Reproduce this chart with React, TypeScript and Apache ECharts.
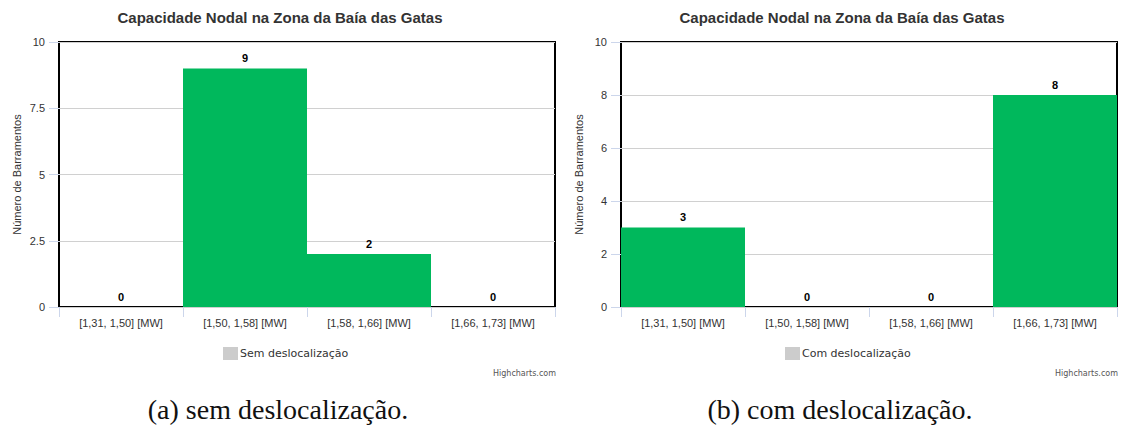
import React, { useEffect, useRef } from "react";
import * as echarts from "echarts";

const categories = ["[1,31, 1,50] [MW]", "[1,50, 1,58] [MW]", "[1,58, 1,66] [MW]", "[1,66, 1,73] [MW]"];
const semValues = [0, 9, 2, 0];
const comValues = [3, 0, 0, 8];
const chartTitle = "Capacidade Nodal na Zona da Baía das Gatas";
const yName = "Número de Barramentos";
const seriesNames = ["Sem deslocalização", "Com deslocalização"];
const captions = ["(a) sem deslocalização.", "(b) com deslocalização."];
const yIntervals = [2.5, 2];
const credit = "Highcharts.com";

const SANS = "Liberation Sans, Arial, sans-serif";
const BAR = "#00b85c";
const OFF = 562;

export default function App() {
  const ref = useRef<HTMLDivElement>(null);
  useEffect(() => {
    document.body.style.margin = "0";
    const chart = echarts.init(ref.current!, null, { renderer: "svg" });
    const panels = [0, 1];
    const grids = panels.map((i) => ({
      left: 59 + i * OFF,
      top: 42,
      width: 496,
      height: 265,
      show: true,
      borderColor: "#000",
      borderWidth: 2,
      backgroundColor: "transparent",
    }));
    const xAxes = panels.map((i) => ({
      type: "category",
      gridIndex: i,
      data: categories,
      boundaryGap: true,
      axisLine: { show: false },
      axisTick: { show: true, length: 10, lineStyle: { color: "#ccd6eb" } },
      axisLabel: { fontFamily: SANS, fontSize: 11, color: "#333", margin: 10 },
      splitLine: { show: false },
    }));
    const yAxes = panels.map((i) => ({
      type: "value",
      gridIndex: i,
      min: 0,
      max: 10,
      interval: yIntervals[i],
      name: yName,
      nameLocation: "middle",
      nameGap: 37,
      nameRotate: 90,
      nameTextStyle: { fontFamily: SANS, fontSize: 11, color: "#333" },
      axisLine: { show: false },
      axisTick: { show: true, length: 10, lineStyle: { color: "#ccd6eb" } },
      axisLabel: { fontFamily: SANS, fontSize: 11, color: "#333", margin: 14 },
      splitLine: { show: true, lineStyle: { color: "#d0d0d0", width: 1 } },
    }));
    const data = [semValues, comValues];
    const series = panels.map((i) => ({
      type: "bar",
      name: seriesNames[i],
      xAxisIndex: i,
      yAxisIndex: i,
      data: data[i],
      barCategoryGap: "0%",
      itemStyle: { color: BAR },
      label: {
        show: true,
        position: "top",
        distance: 5,
        fontFamily: SANS,
        fontSize: 11,
        fontWeight: "bold",
        color: "#000",
      },
    }));
    const legends = panels.map((i) => ({
      data: [seriesNames[i]],
      left: 218 + i * OFF,
      top: 342,
      icon: "rect",
      itemWidth: 15,
      itemHeight: 13,
      itemGap: 5,
      itemStyle: { color: "#cccccc" },
      textStyle: { fontFamily: "DejaVu Sans", fontSize: 11, color: "#333", padding: [0, 0, 0, -3] },
      selectedMode: false,
    }));
    const graphics: any[] = [];
    panels.forEach((i) => {
      graphics.push({
        type: "text",
        x: 280 + i * OFF,
        y: 17,
        style: { text: chartTitle, fontFamily: SANS, fontSize: 15, fontWeight: "bold", fill: "#333", align: "center", verticalAlign: "middle" },
      });
      graphics.push({
        type: "text",
        x: 556 + i * OFF,
        y: 373,
        style: { text: credit, fontFamily: "DejaVu Sans", fontSize: 8, fill: "#555", align: "right", verticalAlign: "middle" },
      });
      graphics.push({
        type: "text",
        x: 278 + i * OFF,
        y: 409,
        style: { text: captions[i], fontFamily: "Liberation Serif, serif", fontSize: 28, fill: "#111", align: "center", verticalAlign: "middle" },
      });
    });
    chart.setOption({
      animation: false,
      backgroundColor: "#fff",
      legend: legends,
      grid: grids,
      xAxis: xAxes,
      yAxis: yAxes,
      series,
      graphic: graphics,
    } as any);
    return () => chart.dispose();
  }, []);
  return <div ref={ref} style={{ width: 1124, height: 425 }} />;
}
